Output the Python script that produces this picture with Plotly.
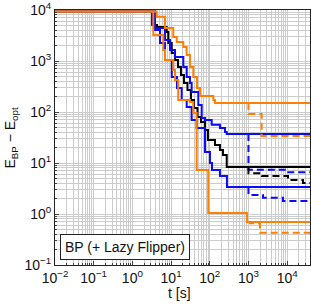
import plotly.graph_objects as go

T_END = 3.9e4
E0 = 9300

# solid curves (time of step, value after step)
orange_hi_t = [0.01, 4.25, 6.95, 11.4, 14.0, 20.7, 25.2, 30.7, 37.5, 46.8, 55.9, 124, 136, T_END]
orange_hi_e = [E0, 7400, 4440, 2960, 2350, 1880, 1310, 763, 485, 295, 205, 172, 150, 150]

blue_hi_t = [0.01, 3.84, 6.95, 9.36, 12.6, 20.7, 25.3, 30.8, 34.0, 50.5, 61.8, 75.2, 112, 183, 247, 274, T_END]
blue_hi_e = [E0, 4440, 2580, 1640, 1200, 762, 485, 370, 247, 137, 76, 70, 56, 48.5, 40.5, 37, 37]

black_t = [0.01, 3.84, 4.33, 7.69, 8.47, 10.4, 12.6, 15.1, 18.0, 21.5, 26.5, 32.7, 39.1, 48.1, 59.3, 75.2, 89.7, 136, 183, 219, 274, T_END]
black_e = [E0, 5080, 4650, 3710, 2250, 1440, 1050, 762, 531, 370, 270, 172, 120, 80, 63.7, 44.4, 28.2, 22.5, 18, 14.4, 8.35, 8.35]

blue_lo_t = [0.01, 3.21, 3.84, 5.16, 6.95, 10.4, 14.2, 18.8, 25.3, 34.0, 45.8, 75.2, 101, 114, 183, 278, T_END]
blue_lo_e = [E0, 5080, 4060, 2250, 1050, 485, 295, 172, 125, 70, 48.5, 16.4, 10, 7.3, 5.56, 3.39, 3.39]

orange_lo_t = [0.01, 3.47, 6.28, 6.95, 11.4, 12.6, 15.3, 30.7, 37.5, 45.8, 91.4, 914, T_END]
orange_lo_e = [E0, 3240, 1640, 1050, 666, 424, 172, 157, 95.5, 7.3, 1.05, 0.70, 0.70]

# dashed curves (+ Lazy Flipper), starting at t = 1000 s
orange_hi_lf_t = [1000, 1000, 2190, T_END]
orange_hi_lf_e = [150, 91, 34, 34]

blue_hi_lf_t = [1000, 1000, 1.0e4, T_END]
blue_hi_lf_e = [37, 7.4, 6.6, 6.6]

black_lf_t = [1000, 1000, 2230, 1.05e4, 2.56e4, T_END]
black_lf_e = [8.35, 6.3, 5.56, 4.64, 4.06, 4.06]

blue_lo_lf_t = [1000, 1000, 2370, 7770, T_END]
blue_lo_lf_e = [3.39, 2.36, 2.09, 1.80, 1.80]

orange_lo_lf_t = [1000, 1100, 1980, T_END]
orange_lo_lf_e = [0.70, 0.656, 0.43, 0.43]

# tick labels
x_tick_vals = [1e-2, 1e-1, 1e0, 1e1, 1e2, 1e3, 1e4]
x_tick_text = ["10<sup>−2</sup>", "10<sup>−1</sup>", "10<sup>0</sup>", "10<sup>1</sup>",
               "10<sup>2</sup>", "10<sup>3</sup>", "10<sup>4</sup>"]
y_tick_vals = [1e-1, 1e0, 1e1, 1e2, 1e3, 1e4]
y_tick_text = ["10<sup>−1</sup>", "10<sup>0</sup>", "10<sup>1</sup>", "10<sup>2</sup>",
               "10<sup>3</sup>", "10<sup>4</sup>"]

ORANGE = "#ff8000"
BLUE = "#0a0aff"
BLACK = "#000000"
DASH = "7px,4px"

fig = go.Figure()

def add(t, e, color, dash="solid"):
    fig.add_trace(go.Scatter(x=t, y=e, mode="lines", line=dict(color=color, width=2, shape="hv", dash=dash),
                             showlegend=False, hoverinfo="skip"))

add(black_t, black_e, BLACK)
add(blue_hi_t, blue_hi_e, BLUE)
add(blue_lo_t, blue_lo_e, BLUE)
add(orange_hi_t, orange_hi_e, ORANGE)
add(orange_lo_t, orange_lo_e, ORANGE)
add(orange_hi_lf_t, orange_hi_lf_e, ORANGE, DASH)
add(orange_lo_lf_t, orange_lo_lf_e, ORANGE, DASH)
add(blue_hi_lf_t, blue_hi_lf_e, BLUE, DASH)
add(blue_lo_lf_t, blue_lo_lf_e, BLUE, DASH)
add(black_lf_t, black_lf_e, BLACK, DASH)

grid = "#cccccc"
axis_common = dict(
    type="log", tickmode="array", showline=True, mirror=True,
    linecolor="#222222", linewidth=1, ticks="inside", ticklen=4, tickcolor="#444444",
    showgrid=True, gridcolor=grid, gridwidth=1, zeroline=False,
    minor=dict(dtick="D1", showgrid=True, gridcolor=grid, ticks="inside", ticklen=2, tickcolor="#444444"),
    tickfont=dict(size=14, color="#111111"),
)

fig.update_layout(
    width=311, height=305,
    margin=dict(l=55, r=1, t=10, b=40),
    paper_bgcolor="white", plot_bgcolor="white",
    font=dict(family="Arial, Liberation Sans, sans-serif", size=14, color="#111111"),
    xaxis=dict(range=[-2, 4.59], tickvals=x_tick_vals, ticktext=x_tick_text, **axis_common),
    yaxis=dict(range=[-1, 4], tickvals=y_tick_vals, ticktext=y_tick_text, **axis_common),
    annotations=[
        dict(text="BP (+ Lazy Flipper)", xref="paper", yref="paper", x=0.02, y=0.02,
             xanchor="left", yanchor="bottom", showarrow=False, font=dict(size=14, color="#111111"),
             bgcolor="white", bordercolor="#222222", borderwidth=1, borderpad=4),
        dict(text="t [s]", xref="paper", yref="paper", x=0.49, y=-0.11,
             xanchor="center", yanchor="middle", showarrow=False, font=dict(size=14, color="#111111")),
        dict(text="E<sub>BP</sub> − E<sub>opt</sub>", xref="paper", yref="paper", x=-0.176, y=0.50,
             xanchor="center", yanchor="middle", textangle=-90, showarrow=False,
             font=dict(size=14, color="#111111")),
    ],
)

fig.write_html("out.html", config={"displayModeBar": False, "staticPlot": True},
               post_script="document.body.style.margin='0';document.body.style.overflow='hidden';")
